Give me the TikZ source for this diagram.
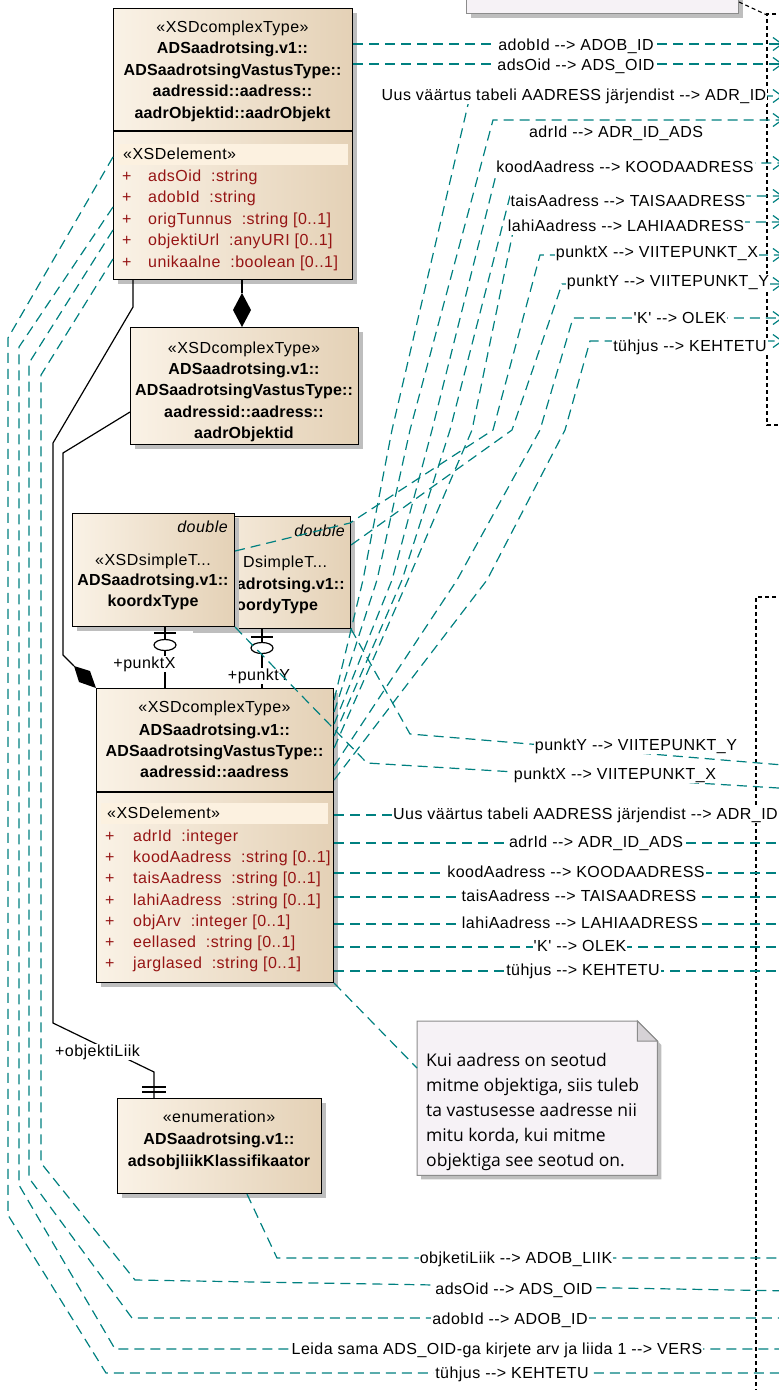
\documentclass[tikz,border=0pt]{standalone}
\usepackage{fontspec}
\usetikzlibrary{arrows.meta,shadows,calc}
\newfontfamily\uf[LetterSpace=3,Ligatures=TeXOff]{Liberation Sans}
\newfontfamily\ubf[LetterSpace=1,Ligatures=TeXOff]{Liberation Sans}
\newfontfamily\nf{Open Sans}
\definecolor{tealc}{RGB}{0,128,128}
\definecolor{attrc}{RGB}{150,20,20}
\definecolor{boxL}{RGB}{250,242,230}
\definecolor{boxR}{RGB}{228,209,182}
\definecolor{bandc}{RGB}{252,241,224}
\definecolor{shadowc}{RGB}{190,190,190}
\definecolor{notec}{RGB}{246,242,246}
\definecolor{noteb}{RGB}{140,140,140}
\definecolor{foldc}{RGB}{214,210,214}
\tikzset{
  umlbox/.style={draw=black, line width=1.1pt, left color=boxL, right color=boxR, inner sep=0pt, anchor=north west,
    drop shadow={shadow xshift=4pt, shadow yshift=-4pt, fill=shadowc, opacity=1}},
  tr/.style={inner sep=0pt, anchor=base, font=\uf\fontsize{16}{20}\selectfont},
  tbold/.style={inner sep=0pt, anchor=base, font=\ubf\bfseries\fontsize{16}{20}\selectfont},
  tit/.style={inner sep=0pt, anchor=base east, font=\uf\itshape\fontsize{16}{20}\selectfont},
  tattr/.style={inner sep=0pt, anchor=base west, text=attrc, font=\uf\fontsize{16}{20}\selectfont},
  lbl/.style={fill=white, inner sep=1pt, anchor=base, text height=11pt, text depth=3pt, font=\uf\fontsize{16}{20}\selectfont},
  conn/.style={draw=tealc, line width=1.2pt, dash pattern=on 10pt off 6pt},
  conntip/.style={conn, -{Straight Barb[length=9pt,width=13pt]}},
  assoc/.style={draw=black, line width=1.2pt},
  bound/.style={draw=black, line width=1.1pt, dash pattern=on 4pt off 3pt},
}
\begin{document}
\begin{tikzpicture}[x=1pt,y=-1pt]
\useasboundingbox (0,0) rectangle (779,1390);
\clip (0,0) rectangle (779,1390);
\coordinate (edge) at (783,0);
\coordinate (edgeb) at (795,0);

% boundaries
\draw[bound] (790,14) -- (767,14) -- (767,425) -- (790,425);
\draw[bound] (790,597) -- (756,597) -- (756,1400);

% top note (cut)
\node[draw=noteb, fill=notec, line width=1pt, minimum width=272pt, minimum height=40pt, inner sep=0pt, anchor=south west,
  drop shadow={shadow xshift=4pt, shadow yshift=-4pt, fill=shadowc, opacity=1}] (topnote) at (466,14) {};
\draw[bound] (topnote.east |- 0,2) -- (767,15);

% boxes
\node[umlbox, minimum width=162pt, minimum height=112pt] (ky) at (188,516) {};
\node[tit] (kyd) at (345,536) {double};
\node[tr, anchor=base west] (ky1) at (243,567) {DsimpleT...};
\node[tbold, anchor=base east] (ky2) at (345,589) {adrotsing.v1::};
\node[tbold, anchor=base west] (ky3) at (236,610) {oordyType};

\node[umlbox, minimum width=162pt, minimum height=113pt] (kx) at (72,513) {};
\node[tit] (kxd) at (228,532) {double};
\node[tr] (kx1) at (153,565) {«XSDsimpleT...};
\node[tbold] (kx2) at (153,585) {ADSaadrotsing.v1::};
\node[tbold] (kx3) at (153,606) {koordxType};

\node[umlbox, minimum width=239pt, minimum height=271pt] (aobj) at (113,8) {};
\node[tr] (a1) at (232.5,32) {«XSDcomplexType»};
\node[tbold] (a2) at (232.5,53.5) {ADSaadrotsing.v1::};
\node[tbold] (a3) at (232.5,75) {ADSaadrotsingVastusType::};
\node[tbold] (a4) at (232.5,96.5) {aadressid::aadress::};
\node[tbold] (a5) at (232.5,118) {aadrObjektid::aadrObjekt};
\draw[assoc] (aobj.west |- 0,131) -- (aobj.east |- 0,131);
\fill[bandc] (118,144) rectangle (348,165);
\node[tr, anchor=base west] (a6) at (123,159) {«XSDelement»};
\node[tattr] (ap1) at (122,181) {+};   \node[tattr] (an1) at (148,181) {adsOid~~:string};
\node[tattr] (ap2) at (122,202.5) {+}; \node[tattr] (an2) at (148,202.5) {adobId~~:string};
\node[tattr] (ap3) at (122,224) {+};   \node[tattr] (an3) at (148,224) {origTunnus~~:string [0..1]};
\node[tattr] (ap4) at (122,245.5) {+}; \node[tattr] (an4) at (148,245.5) {objektiUrl~~:anyURI [0..1]};
\node[tattr] (ap5) at (122,267) {+};   \node[tattr] (an5) at (148,267) {unikaalne~~:boolean [0..1]};

\node[umlbox, minimum width=228pt, minimum height=117pt] (aobjd) at (130,327) {};
\node[tr] (b1) at (244,353) {«XSDcomplexType»};
\node[tbold] (b2) at (244,374) {ADSaadrotsing.v1::};
\node[tbold] (b3) at (244,395.5) {ADSaadrotsingVastusType::};
\node[tbold] (b4) at (244,417) {aadressid::aadress::};
\node[tbold] (b5) at (244,438) {aadrObjektid};

\node[umlbox, minimum width=237pt, minimum height=294pt] (aadr) at (96,688) {};
\node[tr] (c1) at (214.5,712) {«XSDcomplexType»};
\node[tbold] (c2) at (214.5,735) {ADSaadrotsing.v1::};
\node[tbold] (c3) at (214.5,756) {ADSaadrotsingVastusType::};
\node[tbold] (c4) at (214.5,777) {aadressid::aadress};
\draw[assoc] (aadr.west |- 0,792) -- (aadr.east |- 0,792);
\fill[bandc] (101,803) rectangle (328,824);
\node[tr, anchor=base west] (c5) at (107,818) {«XSDelement»};
\node[tattr] (cp1) at (105,841) {+}; \node[tattr] (cn1) at (133,841) {adrId~~:integer};
\node[tattr] (cp2) at (105,862) {+}; \node[tattr] (cn2) at (133,862) {koodAadress~~:string [0..1]};
\node[tattr] (cp3) at (105,883.5) {+}; \node[tattr] (cn3) at (133,883.5) {taisAadress~~:string [0..1]};
\node[tattr] (cp4) at (105,905) {+}; \node[tattr] (cn4) at (133,905) {lahiAadress~~:string [0..1]};
\node[tattr] (cp5) at (105,926) {+}; \node[tattr] (cn5) at (133,926) {objArv~~:integer [0..1]};
\node[tattr] (cp6) at (105,947) {+}; \node[tattr] (cn6) at (133,947) {eellased~~:string [0..1]};
\node[tattr] (cp7) at (105,968) {+}; \node[tattr] (cn7) at (133,968) {jarglased~~:string [0..1]};

\node[umlbox, minimum width=204pt, minimum height=95pt] (enum) at (117,1098) {};
\node[tr] (e1) at (219,1122) {«enumeration»};
\node[tbold] (e2) at (219,1144) {ADSaadrotsing.v1::};
\node[tbold] (e3) at (219,1166) {adsobjliikKlassifikaator};

% note
\node[minimum width=240pt, minimum height=154pt, inner sep=0pt, anchor=north west] (note) at (417,1021) {};
\fill[shadowc] ($(note.north east)+(4,24)$) -- ($(note.south east)+(4,4)$) -- ($(note.south west)+(4,4)$) -- ($(note.south west)+(4,0)$) -- ($(note.south east)+(0,0)$) -- ($(note.north east)+(0,20)$) -- cycle;
\draw[draw=noteb, fill=notec, line width=1pt] (note.south west) -- (note.north west) -- ($(note.north east)+(-20,0)$) -- ($(note.north east)+(0,20)$) -- (note.south east) -- cycle;
\draw[draw=noteb, fill=foldc, line width=1pt] ($(note.north east)+(-20,0)$) -- ($(note.north east)+(-20,20)$) -- ($(note.north east)+(0,20)$) -- cycle;
\node[inner sep=0pt, anchor=north west, align=left, font=\nf\fontsize{17.5}{25}\selectfont] (ntext) at (426,1053)
  {Kui aadress on seotud\\mitme objektiga, siis tuleb\\ta vastusesse aadresse nii\\mitu korda, kui mitme\\objektiga see seotud on.};

% associations
\draw[assoc] (aobj.south -| 133,0) -- (133,307) -- (53,443) -- (53,1023) -- (154,1072) -- (enum.north -| 154,0);
\draw[assoc] (142,1087) -- (166,1087) (142,1092) -- (166,1092);
\node[lbl] (lobj) at (97.5,1056) {+objektiLiik};

\draw[assoc] (aobj.south -| 242,0) -- (242,293);
\fill[black] (242,293) -- (251,310) -- (aobjd.north -| 242,0) -- (233,310) -- cycle;

\draw[assoc] (aobjd.west |- 0,412) -- (63,453) -- (63,655) -- (74,666);
\fill[black] (74,666) -- (90,671) -- (aadr.north west) -- (79,682) -- cycle;

\draw[assoc] (kx.south -| 165,0) -- (aadr.north -| 165,0);
\draw[assoc] (154,633) -- (176,633);
\draw[assoc, fill=white] (165,645) ellipse [x radius=11pt, y radius=5.5pt];
\node[lbl] (lpx) at (144.5,668) {+punktX};

\draw[assoc] (ky.south -| 262,0) -- (aadr.north -| 262,0);
\draw[assoc] (251,637) -- (273,637);
\draw[assoc, fill=white] (262,648) ellipse [x radius=11pt, y radius=5.5pt];
\node[lbl] (lpy) at (259,680) {+punktY};

% teal connectors: top right
\draw[conntip] (aobj.east |- 0,44) -- (edge |- 0,44);
\draw[conntip] (aobj.east |- 0,64) -- (edge |- 0,64);
\draw[conntip] (aadr.east |- 0,700) -- (363,580) -- (392,430) -- (470,96) -- (edge |- 0,96);
\draw[conntip] (aadr.east |- 0,712) -- (377,580) -- (410,430) -- (493,120) -- (edge |- 0,120);
\draw[conntip] (aadr.east |- 0,724) -- (392,580) -- (432,430) -- (499,163) -- (edge |- 0,163);
\draw[conntip] (aadr.east |- 0,736) -- (402,580) -- (450,430) -- (510,196) -- (edge |- 0,196);
\draw[conntip] (aadr.east |- 0,748) -- (408,580) -- (472,430) -- (515,222) -- (edge |- 0,222);
\draw[conntip] (kx.east |- 0,551) -- (350,523) -- (493,430) -- (540,255) -- (edge |- 0,255);
\draw[conntip] (ky.east |- 0,545) -- (512,430) -- (562,284) -- (edge |- 0,284);
\draw[conntip] (aadr.east |- 0,766) -- (457,580) -- (540,430) -- (573,318) -- (edge |- 0,318);
\draw[conntip] (aadr.east |- 0,780) -- (487,580) -- (565,430) -- (590,341) -- (edge |- 0,341);

% teal connectors: middle
\draw[conn] (ky.south east) -- (410,734) -- (edgeb |- 0,766);
\draw[conn] (kx.south east) -- (367,763) -- (edgeb |- 0,789);
\draw[conn] (aadr.east |- 0,815) -- (edgeb |- 0,815);
\draw[conn] (aadr.east |- 0,843) -- (edgeb |- 0,843);
\draw[conn] (aadr.east |- 0,873) -- (edgeb |- 0,873);
\draw[conn] (aadr.east |- 0,897) -- (edgeb |- 0,897);
\draw[conn] (aadr.east |- 0,924) -- (edgeb |- 0,924);
\draw[conn] (aadr.east |- 0,947) -- (edgeb |- 0,947);
\draw[conn] (aadr.east |- 0,971) -- (edgeb |- 0,971);
\draw[conn] (aadr.south east) -- (note.west |- 0,1068);

% teal connectors: left and bottom
\draw[conn] (aobj.west |- 0,259) -- (41,375) -- (41,1163) -- (135,1280) -- (edgeb |- 0,1291);
\draw[conn] (aobj.west |- 0,230) -- (29,363) -- (29,1178) -- (132,1318) -- (edgeb |- 0,1318);
\draw[conn] (aobj.west |- 0,207) -- (19,347) -- (19,1185) -- (115,1349) -- (edgeb |- 0,1349);
\draw[conn] (aobj.west |- 0,157) -- (8,338) -- (8,1215) -- (106,1373) -- (edgeb |- 0,1373);
\draw[conn] (enum.south -| 247,0) -- (277,1258) -- (edgeb |- 0,1258);

% labels top
\node[lbl] (t1) at (576,50) {adobId --> ADOB\_ID};
\node[lbl] (t2) at (576,70) {adsOid --> ADS\_OID};
\node[lbl] (t3) at (574,100) {Uus väärtus tabeli AADRESS järjendist --> ADR\_ID};
\node[lbl] (t4) at (616,137) {adrId --> ADR\_ID\_ADS};
\node[lbl] (t5) at (625,172) {koodAadress --> KOODAADRESS};
\node[lbl] (t6) at (628,206) {taisAadress --> TAISAADRESS};
\node[lbl] (t7) at (626,231) {lahiAadress --> LAHIAADRESS};
\node[lbl] (t8) at (657,257) {punktX --> VIITEPUNKT\_X};
\node[lbl] (t9) at (668,286) {punktY --> VIITEPUNKT\_Y};
\node[lbl] (t10) at (680,323) {'K' --> OLEK};
\node[lbl] (t11) at (690,351) {tühjus --> KEHTETU};
% labels middle
\node[lbl] (m1) at (636,750) {punktY --> VIITEPUNKT\_Y};
\node[lbl] (m2) at (615,779) {punktX --> VIITEPUNKT\_X};
\node[lbl] (m3) at (585.5,819) {Uus väärtus tabeli AADRESS järjendist --> ADR\_ID};
\node[lbl] (m4) at (596,847) {adrId --> ADR\_ID\_ADS};
\node[lbl] (m5) at (576,877) {koodAadress --> KOODAADRESS};
\node[lbl] (m6) at (579,901) {taisAadress --> TAISAADRESS};
\node[lbl] (m7) at (580,928) {lahiAadress --> LAHIAADRESS};
\node[lbl] (m8) at (580,951) {'K' --> OLEK};
\node[lbl] (m9) at (583,975) {tühjus --> KEHTETU};
% labels bottom
\node[lbl] (u1) at (516,1263) {objketiLiik --> ADOB\_LIIK};
\node[lbl] (u2) at (514,1294) {adsOid --> ADS\_OID};
\node[lbl] (u3) at (510,1324) {adobId --> ADOB\_ID};
\node[lbl] (u4) at (497,1354) {Leida sama ADS\_OID-ga kirjete arv ja liida 1 --> VERS};
\node[lbl] (u5) at (512,1378) {tühjus --> KEHTETU};
\end{tikzpicture}
\end{document}
